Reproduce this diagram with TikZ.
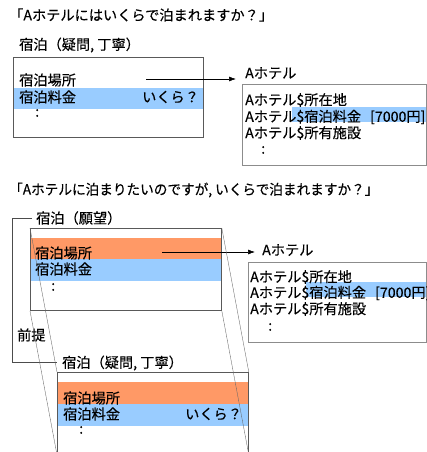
\documentclass[tikz,border=0pt]{standalone}
\usepackage{fontspec}
\setmainfont[FakeBold=0.25]{Noto Sans CJK JP}
\usetikzlibrary{arrows.meta}
\definecolor{bandblue}{HTML}{99CCFF}
\definecolor{bandorange}{HTML}{FF9966}
\begin{document}
\begin{tikzpicture}[x=1pt,y=-1pt,
  txt/.style={anchor=west,inner sep=0pt,font=\fontsize{14.2}{16}\selectfont},
  frame/.style={draw=black!65,line width=0.8pt,rectangle,inner sep=0pt,anchor=north west},
  hotelframe/.style={draw=black!45,line width=1pt,rectangle,inner sep=0pt,anchor=north west},
  proj/.style={draw=black!60,line width=0.35pt},
  arr/.style={-{Latex[length=7pt,width=5pt]},line width=0.6pt},
  brk/.style={draw=black!70,line width=0.6pt}
]
\useasboundingbox (0,0) rectangle (427,452);
\clip (0,0) rectangle (427,452);

% ---------- top part ----------
\node[txt] (t1) at (9,15) {「Aホテルにはいくらで泊まれますか？」};
\node[txt] (l1) at (19,45) {宿泊（疑問, 丁寧）};
\fill[bandblue] (13,88) rectangle (203,109);
\node[frame,minimum width=190pt,minimum height=80pt] (b1) at (13,57) {};
\node[txt] (b1a) at (19,80) {宿泊場所};
\node[txt] (b1b) at (19,97) {宿泊料金};
\node[txt] (b1q) at (142,97) {いくら？};
\node[txt] (b1d) at (35,113) {:};

\node[txt] (h1) at (245,73) {Aホテル};
\fill[bandblue] (292,107) rectangle (426,122);
\node[hotelframe,minimum width=184pt,minimum height=81pt] (b2) at (242,84) {};
\node[txt] (b2a) at (245,100) {Aホテル\$所在地};
\node[txt] (b2b) at (245,117) {Aホテル\$宿泊料金\hspace{9pt}[7000円]};
\node[txt] (b2c) at (245,133) {Aホテル\$所有施設};
\node[txt] (b2d) at (261,150) {:};
\coordinate (a1s) at (146,79);
\coordinate (a1e) at (236,79);
\draw[arr] (a1s) -- (a1e);

% ---------- bottom part ----------
\node[txt] (t2) at (9,190) {\scalebox{0.96}[1]{「Aホテルに泊まりたいのですが, いくらで泊まれますか？」}};
\node[txt] (l3) at (36,218) {宿泊（願望）};
\coordinate (k1) at (32,218);
\coordinate (k2) at (12,218);
\coordinate (k3) at (12,362);
\coordinate (k4) at (57,362);
\draw[brk] (k1) -- (k2) -- (k3) -- (k4);
\node[txt] (pre) at (17,335) {前提};

\fill[bandorange] (30,238) rectangle (221,259);
\fill[bandblue] (30,259) rectangle (221,281);
\node[frame,minimum width=191pt,minimum height=82pt] (b3) at (30,228) {};
\node[txt] (b3a) at (35,253) {宿泊場所};
\node[txt] (b3b) at (35,269) {宿泊料金};
\node[txt] (b3d) at (51,287) {:};

\node[txt] (h2) at (262,250) {Aホテル};
\fill[bandblue] (306,282) rectangle (426,297);
\node[hotelframe,minimum width=178pt,minimum height=80pt] (b4) at (248,262) {};
\node[txt] (b4a) at (250,277) {Aホテル\$所在地};
\node[txt] (b4b) at (250,293) {Aホテル\$宿泊料金\hspace{9pt}[7000円]};
\node[txt] (b4c) at (250,309) {Aホテル\$所有施設};
\node[txt] (b4d) at (268,327) {:};
\coordinate (a2s) at (162,252);
\coordinate (a2e) at (255,252);
\draw[arr] (a2s) -- (a2e);

\node[txt] (l5) at (62,363) {宿泊（疑問, 丁寧）};
\fill[bandorange] (57,382) rectangle (248,404);
\fill[bandblue] (57,404) rectangle (248,426);
\node[frame,minimum width=191pt,minimum height=82pt] (b5) at (57,372) {};
\node[txt] (b5a) at (63,398) {宿泊場所};
\node[txt] (b5b) at (63,414) {宿泊料金};
\node[txt] (b5q) at (185,414) {いくら？};
\node[txt] (b5d) at (79,430) {:};

\draw[proj] (b3.north west) -- (b5.north west);
\draw[proj] (b3.south west) -- (b5.south west);
\draw[proj] (b3.north east) -- (b5.north east);
\draw[proj] (b3.south east) -- (b5.south east);
\end{tikzpicture}
\end{document}
